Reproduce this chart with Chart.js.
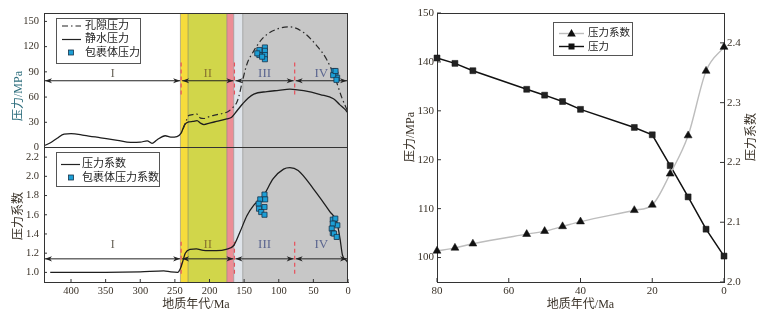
<!DOCTYPE html>
<html>
<head>
<meta charset="utf-8">
<script src="https://cdn.jsdelivr.net/npm/chart.js@4.4.1/dist/chart.umd.min.js"></script>
<style>
html, body { margin: 0; padding: 0; background: #fff; }
#wrap { position: relative; width: 760px; height: 322px; }
#leftChart { position: absolute; left: 0; top: 0; }
#rightChart { position: absolute; left: 380px; top: 0; }
</style>
</head>
<body>
<div id="wrap">
    <canvas id="leftChart" width="380" height="322"></canvas>
    <canvas id="rightChart" width="380" height="322"></canvas>
</div>
<script>
// ---- left panel data (age in Ma) ----
const hydroAge = [439, 429, 420, 410, 400, 381, 357, 333, 314, 300, 290, 283, 276, 264, 256, 247, 241, 236, 230, 224, 218, 213, 208, 200, 190, 175, 168, 160, 152, 144, 136, 117, 100, 84, 64, 40, 21, 12, 5, 0];
const hydroP   = [2, 6, 11, 16, 16.5, 14.5, 11.5, 8.5, 6, 6.3, 8, 5, 9, 14, 12.3, 13, 17, 27, 30.5, 31, 32, 29, 27.3, 29, 31, 34, 36, 44, 52, 59, 63.6, 66.5, 68, 69.5, 67.6, 63, 58, 51, 46, 41];

const poreAge = [238, 233, 230, 225, 219, 213, 208, 203, 195, 184, 175, 171, 165, 161, 158, 153, 146, 136, 122, 103, 84, 64, 45, 31, 19, 9, 0];
const poreP   = [22, 33, 38, 39, 40, 35, 34.5, 36, 38, 40, 42, 44, 48.6, 53, 59.6, 77, 99, 115, 131, 140.7, 143.5, 136.7, 121, 105, 83.4, 59.6, 42];

const inclAge = [120, 120, 120, 120, 128, 128, 131, 124, 20.5, 18, 15.7, 21.4, 16.7, 18];
const inclP   = [119, 115, 110, 105, 116, 110, 112, 108, 91, 87, 83, 86, 80.5, 91];

const coefAge = [430, 400, 350, 300, 266, 256, 246, 242, 238, 235, 228, 219, 209, 190, 176, 165, 156, 146, 136, 122, 108, 93, 84, 72, 50, 26, 16, 11.5, 8, 2, 0];
const coefK   = [1.0, 1.0, 1.0, 1.005, 1.015, 1.005, 1.0, 1.04, 1.13, 1.2, 1.24, 1.245, 1.23, 1.227, 1.24, 1.28, 1.42, 1.59, 1.70, 1.80, 1.975, 2.075, 2.09, 2.06, 1.87, 1.63, 1.52, 1.35, 1.18, 1.12, 1.10];

const inclKAge = [126.7, 120.6, 119.6, 129, 120.6, 128.5, 125.3, 120.6, 22, 18.3, 15.4, 22, 23.5, 22, 20.2, 16.3];
const inclK    = [1.76, 1.81, 1.76, 1.715, 1.68, 1.663, 1.628, 1.60, 1.549, 1.56, 1.49, 1.508, 1.456, 1.41, 1.404, 1.369];

const leftXTicks = [400, 350, 300, 250, 200, 150, 100, 50, 0];
const pTicks = [0, 30, 60, 90, 120, 150];
const kTicks = [1.0, 1.2, 1.4, 1.6, 1.8, 2.0, 2.2];

// geological bands and stages (age in Ma)
const bandFrom = [242, 231, 175, 165, 152];
const bandTo   = [231, 175, 165, 152, 0];
const bandColors = ['#f6dc3c', '#d1d64a', '#ec8d96', '#dfe4ea', '#c7c7c7'];
const stageEdges = [439, 241, 164, 77, 0];
const stageNames = ['I', 'II', 'III', 'IV'];
const stageColors = ['#6f6a60', '#8a7630', '#5d6790', '#5d6790'];

// ---- right panel data ----
const rAge = [80, 75, 70, 55, 50, 45, 40, 25, 20, 15, 10, 5, 0];
const rPressure = [140.8, 139.7, 138.2, 134.4, 133.2, 131.9, 130.3, 126.6, 125.1, 118.8, 112.4, 105.8, 100.3];
const rCoef = [2.052, 2.057, 2.064, 2.080, 2.085, 2.093, 2.101, 2.120, 2.129, 2.181, 2.245, 2.353, 2.393];
const rXTicks = [80, 60, 40, 20, 0];
const rPTicks = [100, 110, 120, 130, 140, 150];
const rKTicks = [2.0, 2.1, 2.2, 2.3, 2.4];

const SERIF = "'Liberation Serif', 'Noto Sans CJK SC', serif";
const INK = '#3a3228';
const CYAN = '#1c9fd6';

Chart.defaults.font.family = SERIF;
Chart.defaults.color = INK;
Chart.defaults.animation = false;

const pts = (xs, ys) => xs.map((v, i) => ({ x: v, y: ys[i] }));
const setTicks = vals => s => { s.ticks = vals.map(v => ({ value: v })); };

function vText(ctx, text, x, y, color) {
    ctx.save();
    ctx.translate(x, y);
    ctx.rotate(-Math.PI / 2);
    ctx.fillStyle = color;
    ctx.textAlign = 'center';
    ctx.textBaseline = 'middle';
    ctx.fillText(text, 0, 0);
    ctx.restore();
}

function arrowLine(ctx, xa, xb, yy) {
    ctx.beginPath(); ctx.moveTo(xa, yy); ctx.lineTo(xb, yy); ctx.stroke();
    [[xa, 1], [xb, -1]].forEach(([px, d]) => {
        ctx.beginPath();
        ctx.moveTo(px, yy);
        ctx.lineTo(px + d * 7, yy - 2.6);
        ctx.lineTo(px + d * 5, yy);
        ctx.lineTo(px + d * 7, yy + 2.6);
        ctx.closePath();
        ctx.fill();
    });
}

// small ticks pointing into the plot
function innerTicks(ctx, scale, side, len) {
    ctx.beginPath();
    scale.ticks.forEach(t => {
        const p = scale.getPixelForValue(t.value);
        if (side === 'left') { ctx.moveTo(scale.right, p); ctx.lineTo(scale.right + len, p); }
        if (side === 'right') { ctx.moveTo(scale.left, p); ctx.lineTo(scale.left - len, p); }
        if (side === 'bottom') { ctx.moveTo(p, scale.top); ctx.lineTo(p, scale.top - len); }
    });
    ctx.stroke();
}

function legendBox(ctx, x, y, w, h) {
    ctx.fillStyle = '#fff';
    ctx.fillRect(x, y, w, h);
    ctx.strokeStyle = '#555';
    ctx.lineWidth = 1;
    ctx.strokeRect(x + 0.5, y + 0.5, w, h);
}

function square(ctx, cx, cy, s, fill, stroke) {
    ctx.fillStyle = fill;
    ctx.fillRect(cx - s / 2, cy - s / 2, s, s);
    ctx.strokeStyle = stroke;
    ctx.lineWidth = 0.8;
    ctx.strokeRect(cx - s / 2, cy - s / 2, s, s);
}

// ---- left chart ----
const leftDecor = {
    id: 'leftDecor',
    beforeDatasetsDraw(chart) {
        const { ctx, chartArea: a, scales: { x, y, y2 } } = chart;
        ctx.save();
        bandFrom.forEach((from, i) => {
            const x1 = x.getPixelForValue(from), x2 = x.getPixelForValue(bandTo[i]);
            ctx.fillStyle = bandColors[i];
            ctx.fillRect(x1, a.top, x2 - x1, a.bottom - a.top);
            ctx.strokeStyle = 'rgba(110,110,110,0.6)';
            ctx.lineWidth = 0.8;
            ctx.beginPath(); ctx.moveTo(x1, a.top); ctx.lineTo(x1, a.bottom); ctx.stroke();
        });

        // stage arrows, dashed boundaries, labels in both panels
        [[y, 79.4, 88, 59.6, 101], [y2, 1.141, 1.293, 0.955, 1.32]].forEach(([s, ay, ly, d0, d1]) => {
            const yy = s.getPixelForValue(ay);
            ctx.strokeStyle = '#222';
            ctx.fillStyle = '#222';
            ctx.lineWidth = 1;
            ctx.setLineDash([]);
            for (let i = 0; i < stageNames.length; i++) {
                const xa = x.getPixelForValue(stageEdges[i]) + 1;
                const xb = x.getPixelForValue(stageEdges[i + 1]) - 1;
                arrowLine(ctx, xa, xb, yy);
            }
            ctx.strokeStyle = '#e8505b';
            ctx.lineWidth = 1.2;
            ctx.setLineDash([4, 3]);
            ctx.beginPath();
            stageEdges.slice(1, 4).forEach(e => {
                const px = x.getPixelForValue(e);
                ctx.moveTo(px, s.getPixelForValue(d1));
                ctx.lineTo(px, s.getPixelForValue(d0));
            });
            ctx.stroke();
            ctx.setLineDash([]);
            ctx.font = '13px ' + SERIF;
            ctx.textAlign = 'center';
            ctx.textBaseline = 'middle';
            stageNames.forEach((n, i) => {
                ctx.fillStyle = stageColors[i];
                ctx.fillText(n, x.getPixelForValue((stageEdges[i] + stageEdges[i + 1]) / 2), s.getPixelForValue(ly));
            });
        });
        ctx.restore();
    },
    afterDraw(chart) {
        const { ctx, chartArea: a, scales: { x, y, y2 } } = chart;
        ctx.save();
        ctx.strokeStyle = '#333';
        ctx.lineWidth = 1;
        ctx.beginPath();
        ctx.moveTo(a.left, a.top + 0.5); ctx.lineTo(a.right, a.top + 0.5);
        ctx.moveTo(a.right - 0.5, a.top); ctx.lineTo(a.right - 0.5, a.bottom);
        ctx.moveTo(a.left, y.bottom); ctx.lineTo(a.right, y.bottom);
        ctx.moveTo(a.left + 0.5, a.top); ctx.lineTo(a.left + 0.5, a.bottom);
        ctx.stroke();
        innerTicks(ctx, y, 'left', 3);
        innerTicks(ctx, y2, 'left', 3);
        innerTicks(ctx, x, 'bottom', 3);

        // legends
        ctx.font = '11px ' + SERIF;
        ctx.textBaseline = 'middle';
        ctx.textAlign = 'left';
        legendBox(ctx, 56, 18, 84, 45);
        ctx.strokeStyle = '#222';
        ctx.lineWidth = 1.2;
        ctx.setLineDash([6, 3, 1.5, 3]);
        ctx.beginPath(); ctx.moveTo(62, 26); ctx.lineTo(81, 26); ctx.stroke();
        ctx.setLineDash([]);
        ctx.beginPath(); ctx.moveTo(62, 39.5); ctx.lineTo(81, 39.5); ctx.stroke();
        square(ctx, 71, 52.5, 5, CYAN, '#17324a');
        ctx.fillStyle = '#222';
        ctx.fillText('孔隙压力', 85, 26);
        ctx.fillText('静水压力', 85, 39.5);
        ctx.fillText('包裹体压力', 85, 53);

        legendBox(ctx, 56, 152, 103, 34);
        ctx.strokeStyle = '#222';
        ctx.lineWidth = 1.2;
        ctx.beginPath(); ctx.moveTo(61, 164.5); ctx.lineTo(80, 164.5); ctx.stroke();
        square(ctx, 71, 177.5, 5, CYAN, '#17324a');
        ctx.fillStyle = '#222';
        ctx.fillText('压力系数', 82, 164.5);
        ctx.fillText('包裹体压力系数', 82, 178);

        // axis titles
        ctx.font = '12px ' + SERIF;
        vText(ctx, '压力/MPa', 19, 96, '#2f6f7e');
        vText(ctx, '压力系数', 19, 216, INK);
        ctx.fillStyle = INK;
        ctx.textAlign = 'center';
        ctx.fillText('地质年代/Ma', (a.left + a.right) / 2, 305);
        ctx.restore();
    }
};

new Chart(document.getElementById('leftChart'), {
    type: 'line',
    data: {
        datasets: [
            {
                label: '包裹体压力', data: pts(inclAge, inclP), yAxisID: 'y', showLine: false,
                pointStyle: 'rect', pointRadius: 3.6, pointBackgroundColor: CYAN, pointBorderColor: '#17324a', pointBorderWidth: 0.8
            },
            {
                label: '包裹体压力系数', data: pts(inclKAge, inclK), yAxisID: 'y2', showLine: false,
                pointStyle: 'rect', pointRadius: 3.6, pointBackgroundColor: CYAN, pointBorderColor: '#17324a', pointBorderWidth: 0.8
            },
            {
                label: '孔隙压力', data: pts(poreAge, poreP), yAxisID: 'y', borderColor: '#2a2a2a', borderWidth: 1.2,
                borderDash: [6, 3, 1.5, 3], pointRadius: 0, cubicInterpolationMode: 'monotone'
            },
            {
                label: '静水压力', data: pts(hydroAge, hydroP), yAxisID: 'y', borderColor: '#1e1e1e', borderWidth: 1.3,
                pointRadius: 0, cubicInterpolationMode: 'monotone'
            },
            {
                label: '压力系数', data: pts(coefAge, coefK), yAxisID: 'y2', borderColor: '#1e1e1e', borderWidth: 1.3,
                pointRadius: 0, cubicInterpolationMode: 'monotone'
            }
        ]
    },
    options: {
        responsive: false,
        layout: { padding: { top: 13, right: 32, left: 0, bottom: 0 } },
        plugins: { legend: { display: false }, tooltip: { enabled: false } },
        scales: {
            x: {
                type: 'linear', reverse: true, min: 0, max: 439,
                afterBuildTicks: setTicks(leftXTicks),
                afterFit: s => { s.height = 40; },
                grid: { display: false, drawTicks: false },
                border: { color: '#333' },
                ticks: { autoSkip: false, maxRotation: 0, padding: 3, font: { size: 10.5 }, color: INK }
            },
            y: {
                stack: 'left', stackWeight: 1, weight: 1, min: 0, max: 160,
                afterBuildTicks: setTicks(pTicks),
                afterFit: s => { s.width = 44; },
                grid: { display: false, drawTicks: false },
                border: { color: '#333' },
                ticks: { autoSkip: false, padding: 5, font: { size: 10.5 }, color: INK }
            },
            y2: {
                stack: 'left', stackWeight: 1, weight: 0, min: 0.9, max: 2.3,
                afterBuildTicks: setTicks(kTicks),
                afterFit: s => { s.width = 44; },
                grid: { display: false, drawTicks: false },
                border: { color: '#333' },
                ticks: { autoSkip: false, padding: 5, font: { size: 10.5 }, color: INK, callback: v => v.toFixed(1) }
            }
        }
    },
    plugins: [leftDecor]
});

// ---- right chart ----
const rightDecor = {
    id: 'rightDecor',
    afterDraw(chart) {
        const { ctx, chartArea: a, scales: { x, y, y1 } } = chart;
        ctx.save();
        ctx.strokeStyle = '#333';
        ctx.lineWidth = 1;
        ctx.beginPath();
        ctx.moveTo(a.left, a.top + 0.5); ctx.lineTo(a.right, a.top + 0.5);
        ctx.stroke();
        innerTicks(ctx, y, 'left', 4);
        innerTicks(ctx, y1, 'right', 4);
        innerTicks(ctx, x, 'bottom', 4);

        // legend
        legendBox(ctx, 173, 22, 79, 33);
        ctx.lineWidth = 1.4;
        ctx.strokeStyle = '#bdbdbd';
        ctx.beginPath(); ctx.moveTo(179, 33.5); ctx.lineTo(204, 33.5); ctx.stroke();
        ctx.fillStyle = '#111';
        ctx.beginPath(); ctx.moveTo(191.5, 29); ctx.lineTo(195.8, 36.5); ctx.lineTo(187.2, 36.5); ctx.closePath(); ctx.fill();
        ctx.strokeStyle = '#111';
        ctx.beginPath(); ctx.moveTo(179, 46.5); ctx.lineTo(204, 46.5); ctx.stroke();
        ctx.fillRect(188.5, 43.5, 6, 6);
        ctx.font = '10.5px ' + SERIF;
        ctx.textAlign = 'left';
        ctx.textBaseline = 'middle';
        ctx.fillStyle = '#222';
        ctx.fillText('压力系数', 208, 33.5);
        ctx.fillText('压力', 208, 47);

        // axis titles
        ctx.font = '12px ' + SERIF;
        vText(ctx, '压力/MPa', 31, 137, INK);
        vText(ctx, '压力系数', 372, 137, INK);
        ctx.fillStyle = INK;
        ctx.textAlign = 'center';
        ctx.fillText('地质年代/Ma', (a.left + a.right) / 2, 305);
        ctx.restore();
    }
};

new Chart(document.getElementById('rightChart'), {
    type: 'line',
    data: {
        datasets: [
            {
                label: '压力系数', data: pts(rAge, rCoef), yAxisID: 'y1', borderColor: '#bdbdbd', borderWidth: 1.4,
                cubicInterpolationMode: 'monotone', pointStyle: 'triangle', pointRadius: 4.6,
                pointBackgroundColor: '#111', pointBorderColor: '#111', pointBorderWidth: 0.5, clip: false
            },
            {
                label: '压力', data: pts(rAge, rPressure), yAxisID: 'y', borderColor: '#111', borderWidth: 1.5,
                pointStyle: 'rect', pointRadius: 4.2, pointBackgroundColor: '#222', pointBorderColor: '#111',
                pointBorderWidth: 0.5, clip: false
            }
        ]
    },
    options: {
        responsive: false,
        layout: { padding: { top: 13, right: 0, left: 0, bottom: 0 } },
        plugins: { legend: { display: false }, tooltip: { enabled: false } },
        scales: {
            x: {
                type: 'linear', reverse: true, min: 0, max: 80,
                afterBuildTicks: setTicks(rXTicks),
                afterFit: s => { s.height = 40; },
                grid: { display: false, drawTicks: false },
                border: { color: '#333' },
                ticks: { autoSkip: false, maxRotation: 0, padding: 3, font: { size: 11 }, color: INK }
            },
            y: {
                position: 'left', min: 95, max: 150,
                afterBuildTicks: setTicks(rPTicks),
                afterFit: s => { s.width = 57; },
                grid: { display: false, drawTicks: false },
                border: { color: '#333' },
                ticks: { autoSkip: false, padding: 3, font: { size: 11 }, color: INK }
            },
            y1: {
                position: 'right', min: 2.0, max: 2.45,
                afterBuildTicks: setTicks(rKTicks),
                afterFit: s => { s.width = 36; },
                grid: { display: false, drawTicks: false },
                border: { color: '#333' },
                ticks: { autoSkip: false, padding: 3, font: { size: 11 }, color: INK, callback: v => v.toFixed(1) }
            }
        }
    },
    plugins: [rightDecor]
});
</script>
</body>
</html>
